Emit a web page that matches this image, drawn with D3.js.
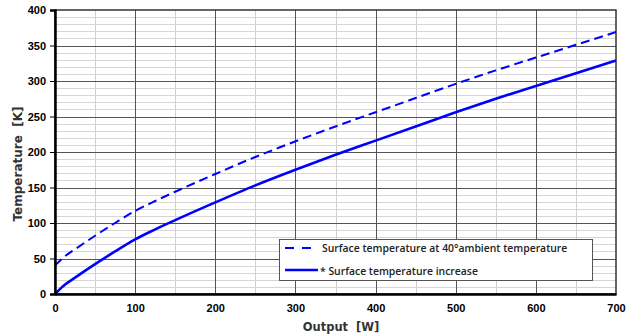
<!DOCTYPE html>
<html><head><meta charset="utf-8">
<script src="https://cdn.jsdelivr.net/npm/d3@7"></script>
<style>body{margin:0;background:#fff}svg{display:block}</style>
</head><body>
<script>
const outputW = [0, 10, 25, 50, 75, 100, 125, 150, 200, 250, 300, 350, 400, 450, 500, 550, 600, 650, 700];
const riseK   = [0, 11, 23, 42, 60, 77, 91, 104, 129, 153, 175, 196, 216, 236, 256, 275, 293, 311, 329];
const ambientOffset = 40;
const surfaceK = riseK.map(v => v + ambientOffset);
const xTicks = [0, 100, 200, 300, 400, 500, 600, 700];
const yTicks = [0, 50, 100, 150, 200, 250, 300, 350, 400];
const legendLabels = ["Surface temperature at 40°ambient temperature", "* Surface temperature increase"];

const W = 634, H = 335;
const m = {l: 55, r: 18, t: 10, b: 41};
const svg = d3.select("body").append("svg").attr("width", W).attr("height", H);
const x = d3.scaleLinear().domain([0, 700]).range([m.l, W - m.r]);
const y = d3.scaleLinear().domain([0, 400]).range([H - m.b, m.t]);

const g = svg.append("g");
// minor grid
g.selectAll(".vmin").data(d3.range(50, 700, 100)).join("line")
  .attr("x1", d => Math.round(x(d)) + 0.5).attr("x2", d => Math.round(x(d)) + 0.5).attr("y1", y(0)).attr("y2", y(400))
  .attr("stroke", "#cfcfcf").attr("stroke-width", 1);
g.selectAll(".hmin").data(d3.range(10, 400, 10).filter(v => v % 50 !== 0)).join("line")
  .attr("x1", x(0)).attr("x2", x(700)).attr("y1", d => Math.round(y(d)) + 0.5).attr("y2", d => Math.round(y(d)) + 0.5)
  .attr("stroke", "#d6d6d6").attr("stroke-width", 1);
// major grid
g.selectAll(".vmaj").data(xTicks.slice(1, -1)).join("line")
  .attr("x1", d => Math.round(x(d)) + 0.5).attr("x2", d => Math.round(x(d)) + 0.5).attr("y1", y(0)).attr("y2", y(400))
  .attr("stroke", "#555").attr("stroke-width", 1);
g.selectAll(".hmaj").data(yTicks.slice(1, -1)).join("line")
  .attr("x1", x(0)).attr("x2", x(700)).attr("y1", d => Math.round(y(d)) + 0.5).attr("y2", d => Math.round(y(d)) + 0.5)
  .attr("stroke", "#555").attr("stroke-width", 1);

// border
svg.append("rect").attr("x", x(0)).attr("y", y(400)).attr("width", x(700) - x(0)).attr("height", y(0) - y(400))
  .attr("fill", "none").attr("stroke", "#333").attr("stroke-width", 1.5);

// lines
const line = d3.line().x((d, i) => x(outputW[i])).y(d => y(d)).curve(d3.curveMonotoneX);
svg.append("path").datum(surfaceK).attr("d", line).attr("fill", "none")
  .attr("stroke", "#0000ff").attr("stroke-width", 2).attr("stroke-dasharray", "9,5");
svg.append("path").datum(riseK).attr("d", line).attr("fill", "none")
  .attr("stroke", "#0000ff").attr("stroke-width", 2.6);

// axes
const yAxis = d3.axisLeft(y).tickValues(yTicks).tickSize(5).tickPadding(4);
const ya = svg.append("g").attr("transform", `translate(${x(0)},0)`).call(yAxis);
ya.select(".domain").attr("stroke", "#000").attr("stroke-width", 2.5);
ya.selectAll(".tick line").attr("stroke", "#000");
ya.selectAll("text").attr("font-family", "Liberation Sans, Arial, sans-serif").attr("font-weight", "bold").attr("font-size", 11).attr("fill", "#000");

const xAxis = d3.axisBottom(x).tickValues(xTicks).tickSize(0).tickPadding(10);
const xa = svg.append("g").attr("transform", `translate(0,${y(0)})`).call(xAxis);
xa.select(".domain").attr("stroke", "#000").attr("stroke-width", 2.5);
xa.selectAll("text").attr("font-family", "Liberation Sans, Arial, sans-serif").attr("font-weight", "bold").attr("font-size", 11).attr("fill", "#000");

// titles
svg.append("text").attr("transform", `translate(22,${(y(0) + y(400)) / 2 + 12}) rotate(-90)`)
  .attr("text-anchor", "middle").attr("font-family", "DejaVu Sans, Verdana, sans-serif").attr("font-weight", "bold")
  .attr("font-size", 12).attr("fill", "#333").attr("xml:space", "preserve").text("Temperature  [K]");
svg.append("text").attr("x", 341).attr("y", 331)
  .attr("text-anchor", "middle").attr("font-family", "DejaVu Sans, Verdana, sans-serif").attr("font-weight", "bold")
  .attr("font-size", 11.5).attr("fill", "#333").attr("xml:space", "preserve").text("Output  [W]");

// legend
const lg = svg.append("g");
lg.append("rect").attr("x", 279.5).attr("y", 239.5).attr("width", 313).attr("height", 41)
  .attr("fill", "#fff").attr("stroke", "#555").attr("stroke-width", 1);
lg.append("line").attr("x1", 285).attr("x2", 316).attr("y1", 248).attr("y2", 248)
  .attr("stroke", "#0000ff").attr("stroke-width", 2).attr("stroke-dasharray", "9,8");
lg.append("line").attr("x1", 285).attr("x2", 318).attr("y1", 270).attr("y2", 270)
  .attr("stroke", "#0000ff").attr("stroke-width", 2.6);
lg.selectAll("text").data(legendLabels).join("text")
  .attr("x", (d, i) => i === 0 ? 322 : 320).attr("y", (d, i) => 252 + i * 23)
  .attr("font-family", "Open Sans, sans-serif").attr("font-weight", 600).attr("font-size", 10.4)
  .attr("fill", "#222").text(d => d);
</script>
</body></html>
